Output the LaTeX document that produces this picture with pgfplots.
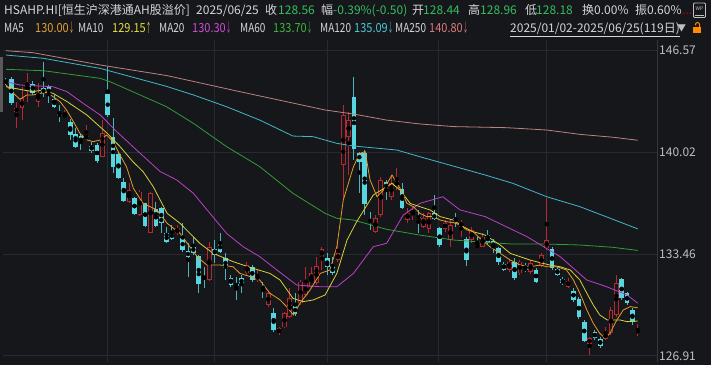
\documentclass[border=0pt]{standalone}
\usepackage{fontspec}
\setmainfont{Noto Sans CJK SC}
\newfontfamily\narrowf[FakeStretch=0.88]{Noto Sans CJK SC}
\newfontfamily\narrowl[FakeStretch=0.8]{Noto Sans CJK SC}
\usepackage{pgfplots}
\usepackage{pgfplotstable}
\pgfplotsset{compat=1.18}
\definecolor{bgc}{HTML}{15171B}
\definecolor{txt}{HTML}{D4D6DA}
\definecolor{grn}{HTML}{35BE60}
\definecolor{tickc}{HTML}{BDBFC3}
\definecolor{gridc}{HTML}{272A30}
\definecolor{borderc}{HTML}{33363C}
\definecolor{bearc}{HTML}{58D6E0}
\definecolor{bullc}{HTML}{B82830}
\definecolor{ma5}{HTML}{E69A2A}
\definecolor{ma10}{HTML}{DCD03C}
\definecolor{ma20}{HTML}{BC40C8}
\definecolor{ma60}{HTML}{329C36}
\definecolor{ma120}{HTML}{46B6C6}
\definecolor{ma250}{HTML}{BA8282}
\definecolor{t5}{HTML}{E8A033}
\definecolor{t10}{HTML}{E5DF40}
\definecolor{t20}{HTML}{D24AD8}
\definecolor{t60}{HTML}{3FB53F}
\definecolor{t120}{HTML}{4CC9D6}
\definecolor{t250}{HTML}{E07A7A}
\newcommand{\hdr}{\fontsize{12}{14}\selectfont}
\newcommand{\hdrn}{\narrowf\fontsize{12.5}{14}\selectfont}
\newcommand{\hdrl}{\narrowl\fontsize{12.5}{14}\selectfont}
\newcommand{\dn}{\scalebox{0.5}[1]{↓}}
\newcommand{\up}{\scalebox{0.5}[1]{↑}}

\pgfplotstableread{
x o h l c
2 142.64 143.29 141.57 142.86
3 142.86 144.25 142.10 143.50
4 144.25 145.11 143.29 144.51
6 143.29 144.47 142.96 143.82
11 142.28 142.75 142.21 142.49
15 140.92 141.78 140.82 141.07
18 139.74 142.10 139.70 141.29
23 136.84 138.07 136.73 137.59
25 135.98 137.59 135.92 137.49
27 134.84 137.49 134.80 137.38
32 134.80 135.34 134.69 135.12
38 131.79 134.26 131.75 133.94
45 132.22 132.98 132.12 132.76
47 131.79 132.44 131.69 132.12
49 130.18 131.04 130.08 130.94
51 128.36 128.79 128.25 128.68
52 128.74 129.75 128.68 129.65
53 129.43 131.26 129.33 130.61
55 130.29 131.79 130.18 131.69
56 130.83 132.65 130.72 131.58
57 131.36 132.65 131.26 132.22
58 131.58 133.30 131.47 132.70
59 133.30 133.94 132.44 133.77
62 133.08 134.37 132.98 133.51
63 139.21 143.07 137.06 142.43
64 141.03 142.64 138.56 142.10
69 134.91 135.98 134.84 135.77
70 135.98 138.45 135.88 138.24
72 137.16 138.56 136.95 138.02
73 137.70 138.99 137.59 138.35
75 135.66 136.41 135.49 136.09
76 136.09 136.52 135.66 136.20
78 135.23 136.09 135.12 135.77
79 135.06 136.20 134.80 136.09
82 135.06 135.66 134.91 135.49
83 134.37 135.66 133.94 135.34
85 135.23 135.66 134.59 135.55
87 134.37 135.23 134.16 135.02
89 133.94 134.80 133.90 134.59
94 132.44 133.08 132.33 132.98
96 132.22 133.08 132.12 132.98
98 132.33 133.08 132.18 132.87
100 132.70 133.56 132.61 133.41
101 133.83 137.06 133.73 134.37
105 131.36 131.90 131.26 131.75
109 127.67 128.14 126.96 128.04
112 127.97 128.79 127.93 128.40
113 128.40 130.08 128.25 129.86
114 129.54 132.12 129.43 131.58
118 128.44 128.96 128.18 128.56
}\bull

\pgfplotstableread{
x o h l c
0 144.68 144.79 144.36 144.47
1 144.73 144.90 143.07 143.18
5 144.40 144.64 143.72 143.87
7 144.15 145.86 143.61 143.82
8 144.25 144.36 143.18 143.72
9 143.44 143.72 142.86 142.96
10 142.49 143.07 142.00 142.36
12 142.00 142.15 140.82 141.14
13 141.20 141.57 140.28 140.39
14 141.07 141.20 140.17 140.60
16 140.43 140.71 139.96 140.13
17 140.49 140.60 139.36 139.48
19 143.76 145.54 142.32 142.43
20 141.03 142.21 138.67 139.05
21 139.89 140.06 138.28 138.35
22 138.13 138.35 136.84 136.91
24 137.06 137.16 135.98 136.05
26 136.73 136.78 135.23 135.30
28 136.37 136.84 135.23 135.30
29 136.46 136.52 134.80 135.49
30 134.80 135.23 134.16 134.22
31 134.84 135.34 134.37 134.44
33 134.48 135.45 133.62 133.73
34 133.69 134.16 132.01 133.25
35 133.94 134.59 133.41 133.56
36 133.34 133.41 130.94 131.54
37 131.97 132.65 131.26 131.88
39 133.77 134.37 132.87 133.41
40 134.20 134.84 133.51 133.62
41 133.19 133.51 131.79 132.59
42 131.90 132.12 131.36 131.47
43 131.51 132.01 130.51 131.43
44 131.90 132.12 130.94 131.54
46 132.65 132.76 131.69 131.79
48 131.41 131.69 130.61 131.19
50 129.65 129.97 128.46 128.57
54 130.12 130.94 129.47 129.60
60 133.19 133.51 132.12 132.65
61 132.70 133.30 132.12 132.22
65 143.61 144.90 139.53 140.21
66 140.00 140.06 137.38 139.42
67 139.96 140.17 135.98 136.69
68 135.66 136.20 135.02 135.49
71 138.13 138.24 136.95 137.59
74 137.64 138.02 136.35 136.41
77 135.88 136.31 134.80 135.77
80 136.09 137.27 135.66 135.70
81 135.12 135.23 133.94 134.05
84 135.77 136.09 135.23 135.66
86 134.41 134.59 132.70 133.08
88 134.05 134.59 133.83 133.90
90 134.69 135.02 134.11 134.16
91 134.31 134.41 133.51 133.83
92 133.83 133.94 132.76 132.98
93 132.83 132.98 132.37 132.44
95 132.98 133.19 131.79 131.90
97 132.59 132.87 132.33 132.44
99 132.44 132.55 131.58 131.64
102 133.79 133.94 132.44 132.55
103 132.48 132.65 132.05 132.12
104 131.84 131.97 131.47 131.58
106 131.11 131.26 130.40 130.51
107 130.55 130.72 129.26 129.39
108 129.11 129.22 127.82 127.89
110 128.44 128.57 127.93 128.04
111 128.01 128.14 127.39 127.54
115 131.84 131.90 130.51 130.61
116 130.94 131.04 130.18 130.29
117 129.86 129.97 128.89 129.11
}\bear

\begin{document}
\begin{tikzpicture}[x=1pt,y=1pt]
\fill[bgc] (0,0) rectangle (711,365);
\useasboundingbox (0,0) rectangle (711,365);
\begin{scope}[every node/.style={anchor=base west, inner sep=0pt, font=\hdr}]
% row 1
\node[text=txt] at (4,350) {HSAHP.HI[恒生沪深港通AH股溢价]};
\node[text=txt] at (196,350) {2025/06/25};
\node[text=txt] at (265,350) {收};
\node[text=grn] at (278,350) {128.56};
\node[text=txt] at (321,350) {幅};
\node[text=grn] at (333,350) {-0.39\%(-0.50)};
\node[text=txt] at (412,350) {开};
\node[text=grn] at (423,350) {128.44};
\node[text=txt] at (468,350) {高};
\node[text=grn] at (480,350) {128.96};
\node[text=txt] at (525,350) {低};
\node[text=grn] at (536,350) {128.18};
\node[text=txt] at (582,350) {换0.00\%};
\node[text=txt] at (635,350) {振0.60\%};
\node[text=red!75!black] at (682,350) {...};
\end{scope}
\begin{scope}[every node/.style={anchor=base west, inner sep=0pt, font=\hdrn}]
% row 2
\node[text=txt, font=\hdrl] at (4,332.5) {MA5};
\node[text=t5] at (35,332.5) {130.00\dn};
\node[text=txt, font=\hdrl] at (78,332.5) {MA10};
\node[text=t10] at (112,332.5) {129.15\up};
\node[text=txt, font=\hdrl] at (159,332.5) {MA20};
\node[text=t20] at (192,332.5) {130.30\dn};
\node[text=txt, font=\hdrl] at (240,332.5) {MA60};
\node[text=t60] at (273,332.5) {133.70\dn};
\node[text=txt, font=\hdrl] at (320,332.5) {MA120};
\node[text=t120] at (354,332.5) {135.09\dn};
\node[text=txt, font=\hdrl] at (395,332.5) {MA250};
\node[text=t250] at (429,332.5) {140.80\dn};
\node[text=txt, font=\hdr] at (510,332.5) {\underline{2025/01/02-2025/06/25(119日)}};
\node[text=tickc, font=\fontsize{9}{10}\selectfont] at (677,333.5) {▼};
\end{scope}
% icons
\draw[tickc, line width=0.8pt, rounded corners=1pt] (693.5,347.5) rectangle (705.5,362);
\node[text=tickc, font=\fontsize{5}{5}\selectfont, inner sep=0pt] at (699.5,356) {WP};
\draw[tickc, line width=0.6pt] (695,350) -- (704,350);
\fill[orange!90!yellow] (693,332) rectangle (701,338);
\draw[orange!90!yellow, line width=1pt] (699.5,338) -- (699.5,340.5) arc (0:180:2) -- (695.5,339.5);
% scrollbar
\fill[gray!70!black] (0,253) rectangle (2.7,308);

\begin{axis}[at={(3pt,3pt)}, anchor=south west, scale only axis,
  width=654pt, height=322pt,
  xmin=-0.56, xmax=121.6, ymin=126.51, ymax=147.26,
  axis line style={draw=none}, major tick length=0pt,
  xtick={18.96,39,60,80.7,100.9}, xticklabels={},
  ytick={126.91,133.46,140.02,146.57},
  yticklabels={126.91,133.46,140.02,146.57},
  yticklabel pos=right,
  yticklabel style={font=\hdr, text=tickc, anchor=west, inner sep=0pt, xshift=2pt},
  grid=major, grid style={gridc, line width=0.6pt},
  clip=true]
% bear candles
\addplot[only marks, mark=none, error bars/.cd, y dir=both, y explicit, error mark=none,
  error bar style={line width=1pt, color=bearc!85!black}]
  table[x=x, y expr={(\thisrow{h}+\thisrow{l})/2}, y error expr={(\thisrow{h}-\thisrow{l})/2}] {\bear};
\addplot[only marks, mark=none, error bars/.cd, y dir=both, y explicit, error mark=none,
  error bar style={line width=4.6pt, color=bearc}]
  table[x=x, y expr={(\thisrow{o}+\thisrow{c})/2}, y error expr={max(abs(\thisrow{o}-\thisrow{c})/2,0.04)}] {\bear};
% bull candles
\addplot[only marks, mark=none, error bars/.cd, y dir=both, y explicit, error mark=none,
  error bar style={line width=1pt, color=bullc}]
  table[x=x, y expr={(\thisrow{h}+\thisrow{l})/2}, y error expr={(\thisrow{h}-\thisrow{l})/2}] {\bull};
\addplot[only marks, mark=none, error bars/.cd, y dir=both, y explicit, error mark=none,
  error bar style={line width=4.6pt, color=bullc}]
  table[x=x, y expr={(\thisrow{o}+\thisrow{c})/2}, y error expr={max(abs(\thisrow{o}-\thisrow{c})/2,0.04)}] {\bull};
\addplot[only marks, mark=none, error bars/.cd, y dir=both, y explicit, error mark=none,
  error bar style={line width=2.8pt, color=bgc}]
  table[x=x, y expr={(\thisrow{o}+\thisrow{c})/2}, y error expr={max(abs(\thisrow{o}-\thisrow{c})/2-0.055,0)}] {\bull};
% moving averages
\addplot[ma250, line width=0.8pt, mark=none] coordinates {(0,146.57)(5.1,146.44)(17.6,145.65)(30,144.97)(43.7,143.93)(59.6,142.75)(64.9,142.49)(71.1,142.10)(77.3,141.85)(83.6,141.68)(93.5,141.61)(101,141.46)(107.2,141.18)(113.5,140.99)(118,140.80)};
\addplot[ma120, line width=0.8pt, mark=none] coordinates {(0,146.29)(7,146.08)(17.6,145.43)(29.7,144.30)(35,143.72)(41.2,142.96)(47.4,142.10)(53.6,141.07)(57.4,141.03)(61.8,140.60)(64.9,140.43)(73,140.17)(77.3,139.74)(89.5,138.56)(94.7,138.02)(101,137.16)(107.2,136.52)(118,135.09)};
\addplot[ma60, line width=0.8pt, mark=none] coordinates {(0,145.37)(7,145.28)(17.6,144.79)(19.4,144.58)(30,142.96)(35,141.89)(41.2,140.39)(47.4,139.10)(53.6,137.38)(59.6,136.09)(61.8,135.77)(64.9,135.66)(71.1,135.06)(77.3,134.69)(83.6,134.37)(89.5,134.22)(94.7,134.11)(101,134.11)(107.2,134.05)(113.4,133.90)(118,133.70)};
\addplot[ma20, line width=0.8pt, mark=none] coordinates {(0,144.58)(2.6,144.36)(8.8,144.25)(11.4,143.93)(14.4,143.18)(17.6,142.43)(20.7,141.35)(23.7,140.39)(28.8,138.78)(31.9,138.24)(35,137.38)(38.1,136.09)(41.2,134.80)(44.3,133.94)(47.4,133.30)(50.6,132.44)(54.3,131.47)(58.7,131.36)(61.8,131.36)(64.9,132.22)(68.6,133.94)(71.1,134.16)(74.2,135.98)(77.3,136.73)(81.6,137.16)(84.8,136.31)(89.5,135.88)(97.3,134.59)(103.5,133.30)(108.5,131.79)(112.2,131.36)(116,130.83)(118,130.30)};
\addplot[ma10, line width=0.8pt, mark=none] coordinates {(0,144.25)(2.6,144.08)(5,143.93)(6.9,144.04)(8.8,143.82)(11.4,143.29)(15.1,142.43)(18.9,141.25)(21.3,140.39)(23.7,139.42)(25.6,138.78)(27.5,137.81)(30.1,136.09)(32.5,135.45)(36.2,134.16)(38.7,133.51)(42.4,132.98)(46.1,132.55)(49.3,132.22)(51.2,131.79)(53.6,130.61)(55.5,130.40)(57.4,130.51)(59.6,130.83)(61.8,132.22)(63.7,134.37)(65.5,135.55)(68.6,137.27)(72.1,138.02)(73.6,137.59)(75.5,136.73)(77.3,136.52)(79.2,136.31)(81.1,135.88)(83.5,135.66)(85.4,135.23)(87.2,134.91)(89.5,134.69)(92.3,134.05)(94.2,133.51)(96,133.30)(97.9,133.08)(99.8,132.91)(101.6,132.76)(103.5,132.65)(105.4,132.44)(107.2,131.79)(108.5,130.94)(109.7,130.18)(110.9,129.54)(112.3,129.22)(114.7,129.22)(116,129.11)(118,129.15)};
\addplot[ma5, line width=0.8pt, mark=none] coordinates {(0,144.36)(1.4,143.82)(2.6,143.44)(3.9,143.72)(5.1,143.72)(6.4,143.82)(7.6,143.87)(8.8,143.61)(10.1,143.29)(11.3,142.75)(12.6,142.00)(13.8,141.25)(15.1,140.82)(16.3,140.71)(17.6,140.82)(18.8,141.14)(20,140.71)(21.3,139.85)(22.5,139.10)(23.8,137.70)(25.6,136.73)(28.2,136.31)(30.1,135.45)(32.5,134.80)(35.7,133.30)(37.5,132.76)(40,132.76)(42.4,132.65)(43.7,132.22)(45.6,132.01)(47.4,131.79)(49.3,130.94)(51.2,130.51)(52.4,130.08)(53.7,129.54)(54.9,130.29)(56.8,131.15)(58.7,132.22)(60.5,132.44)(61.8,133.94)(63,136.95)(64.9,139.10)(66.1,139.96)(67.1,140.06)(68,138.24)(69.3,137.16)(70.5,137.59)(72.1,138.56)(73.6,137.70)(74.9,136.73)(76.1,136.52)(77.3,136.09)(78.6,135.88)(79.8,135.88)(81.1,135.66)(82.3,135.55)(83.6,135.49)(84.8,135.34)(86.1,135.02)(87.3,134.91)(88.5,134.48)(90.4,133.94)(92.3,133.51)(94.2,133.08)(96,132.76)(97.9,132.65)(99.8,132.76)(101,132.65)(102.9,132.65)(104.7,132.44)(106,131.79)(107.2,130.94)(108.5,129.86)(109.7,129.00)(110.9,128.36)(111.9,128.04)(112.8,128.36)(114.1,129.22)(115.3,129.86)(116.6,130.08)(118,130.00)};
\end{axis}
\draw[borderc, line width=0.8pt] (657,3) -- (657,325);
\end{tikzpicture}
\end{document}
